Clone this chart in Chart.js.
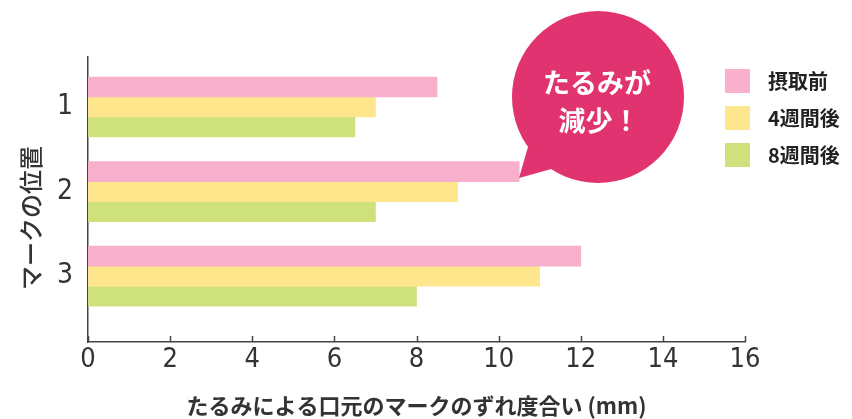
<!DOCTYPE html>
<html lang="ja">
<head>
<meta charset="utf-8">
<script src="https://cdn.jsdelivr.net/npm/chart.js@4"></script>
<style>
  body { margin: 0; background: #fff; }
  #wrap { position: relative; width: 852px; height: 419px; }
  #legend { position: absolute; left: 725px; top: 62px; font-family: "Noto Sans CJK JP", sans-serif; }
  #legend .item { display: flex; align-items: center; height: 37px; }
  #legend .box { width: 25px; height: 24px; margin-right: 18px; }
  #legend .txt { font-size: 20px; font-weight: 700; color: #222; }
  #bubble { position: absolute; left: 0; top: 0; pointer-events: none; }
</style>
</head>
<body>
<div id="wrap">
  <canvas id="chart"></canvas>
  <svg id="bubble" width="852" height="419">
    <polygon points="519,178 530,140 562,166" fill="#e0336f"/>
    <circle cx="598" cy="97" r="86" fill="#e0336f"/>
    <text x="597" y="93" text-anchor="middle" font-family="Noto Sans CJK JP" font-weight="700" font-size="27" fill="#fff">たるみが</text>
    <text x="599" y="131" text-anchor="middle" font-family="Noto Sans CJK JP" font-weight="700" font-size="27" fill="#fff">減少！</text>
  </svg>
  <div id="legend"></div>
</div>
<script>
const categories = ['1', '2', '3'];
const positions = [1, 2, 3];
const seriesNames = ['摂取前', '4週間後', '8週間後'];
const before = [8.5, 10.5, 12];
const week4 = [7, 9, 11];
const week8 = [6.5, 7, 8];
const xTicks = [0, 2, 4, 6, 8, 10, 12, 14, 16];
const yTitle = 'マークの位置';
const xTitle = 'たるみによる口元のマークのずれ度合い (mm)';

const colors = ['#f8b0cc', '#fde68c', '#cfe17c'];
const jp = '"Noto Sans CJK JP", sans-serif';
const numFont = '"Liberation Sans Narrow", "DejaVu Sans Condensed", Lato, sans-serif';

const toPoints = vals => vals.map((v, i) => ({ x: v, y: positions[i] }));

// short tick marks pointing up from the x axis line, plus the rotated y title
const axisExtras = {
  id: 'axisExtras',
  afterDraw(chart) {
    const { ctx, chartArea, scales } = chart;
    ctx.save();
    ctx.strokeStyle = '#444';
    ctx.lineWidth = 1.5;
    xTicks.forEach(v => {
      const px = Math.round(scales.x.getPixelForValue(v)) + 0.5;
      ctx.beginPath();
      ctx.moveTo(px, chartArea.bottom);
      ctx.lineTo(px, chartArea.bottom - 6);
      ctx.stroke();
    });
    ctx.translate(31, 218);
    ctx.rotate(-Math.PI / 2);
    ctx.fillStyle = '#333';
    ctx.font = '500 24px ' + jp;
    ctx.textAlign = 'center';
    ctx.textBaseline = 'middle';
    ctx.fillText(yTitle, 0, 0);
    ctx.restore();
  }
};

const chart = new Chart(document.getElementById('chart'), {
  type: 'bar',
  data: {
    datasets: [before, week4, week8].map((vals, i) => ({
      label: seriesNames[i],
      data: toPoints(vals),
      backgroundColor: colors[i],
      borderWidth: 0,
      barThickness: 20
    }))
  },
  options: {
    indexAxis: 'y',
    responsive: true,
    maintainAspectRatio: false,
    animation: false,
    layout: { padding: { top: 57, right: 107, left: 0, bottom: 0 } },
    plugins: {
      legend: { display: false },
      tooltip: { enabled: false }
    },
    scales: {
      x: {
        type: 'linear',
        min: 0,
        max: 16,
        ticks: {
          stepSize: 2,
          padding: 2,
          color: '#333',
          font: { family: numFont, size: 27 }
        },
        grid: { display: false, drawTicks: false },
        border: { display: true, color: '#444', width: 1.5 },
        title: {
          display: true,
          text: xTitle,
          color: '#333',
          font: { family: jp, size: 22, weight: '700' },
          padding: { top: 0, bottom: 0 }
        },
        afterFit(scale) { scale.height = 77; }
      },
      y: {
        type: 'linear',
        offset: false,
        reverse: true,
        min: 0.408,
        max: 3.78,
        afterBuildTicks(scale) {
          scale.ticks = positions.map(v => ({ value: v }));
        },
        ticks: {
          padding: 15,
          color: '#333',
          font: { family: numFont, size: 28 },
          callback: v => categories[positions.indexOf(v)]
        },
        grid: { display: false, drawTicks: false, offset: false },
        border: { display: true, color: '#444', width: 1.5 },
        afterFit(scale) { scale.width = 88; }
      }
    }
  },
  plugins: [axisExtras]
});

// legend built from the chart's datasets
const legend = document.getElementById('legend');
chart.data.datasets.forEach(ds => {
  const item = document.createElement('div');
  item.className = 'item';
  item.innerHTML = '<span class="box" style="background:' + ds.backgroundColor + '"></span><span class="txt">' + ds.label + '</span>';
  legend.appendChild(item);
});
</script>
</body>
</html>
